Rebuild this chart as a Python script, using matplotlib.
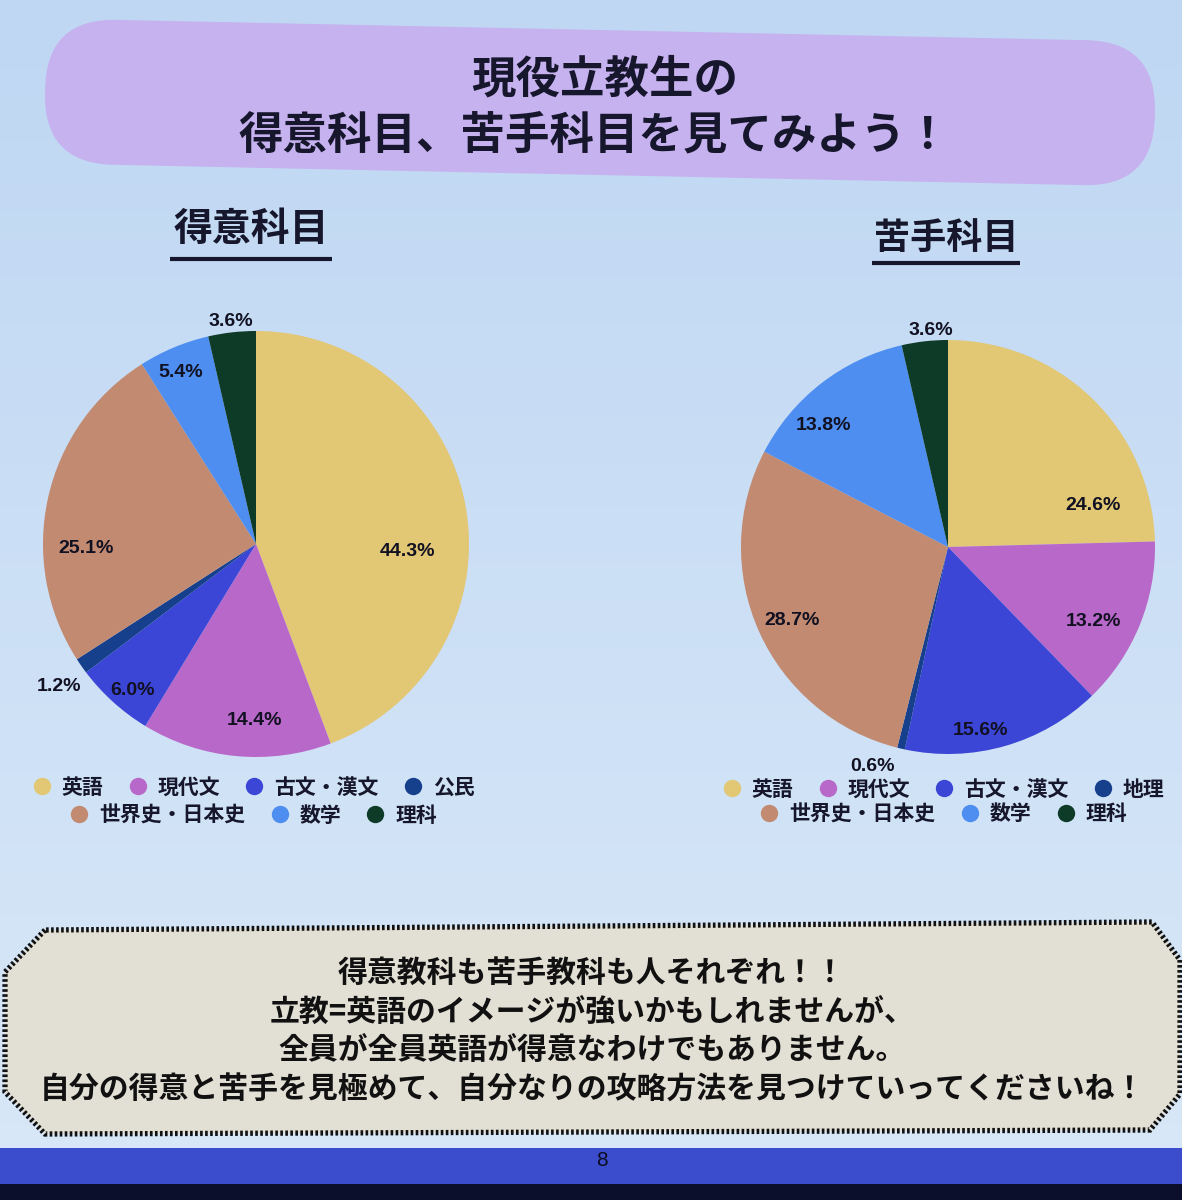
import matplotlib
matplotlib.use('Agg')
import matplotlib.pyplot as plt
import numpy as np
from matplotlib.patches import FancyBboxPatch, Polygon, Rectangle
from matplotlib.lines import Line2D
import matplotlib.transforms as mtransforms
import matplotlib.colors as mcolors

plt.rcParams['font.family'] = ['Noto Sans CJK JP', 'DejaVu Sans']

# ---------------- data ----------------
title_lines = ["現役立教生の", "得意科目、苦手科目を見てみよう！"]
left_title = "得意科目"
right_title = "苦手科目"
left_labels = ["英語", "現代文", "古文・漢文", "公民", "世界史・日本史", "数学", "理科"]
left_values = [44.3, 14.4, 6.0, 1.2, 25.1, 5.4, 3.6]
right_labels = ["英語", "現代文", "古文・漢文", "地理", "世界史・日本史", "数学", "理科"]
right_values = [24.6, 13.2, 15.6, 0.6, 28.7, 13.8, 3.6]
message_lines = [
    "得意教科も苦手教科も人それぞれ！！",
    "立教=英語のイメージが強いかもしれませんが、",
    "全員が全員英語が得意なわけでもありません。",
    "自分の得意と苦手を見極めて、自分なりの攻略方法を見つけていってくださいね！",
]
page_number = "8"

# ---------------- style ----------------
slice_colors = ["#e2c774", "#b868c8", "#3b45d6", "#163f8c", "#c28a70", "#4d8ef0", "#0e3a28"]
left_label_dist = [0.71, 0.83, 0.90, 1.14, 0.80, 0.88, 1.05]
left_label_shift = [-13, 5, 2, 1, 14, 1, 0]
right_label_dist = [0.73, 0.79, 0.90, 1.12, 0.83, 0.84, 1.05]
right_label_shift = [-30, -5, -6, -6, 1, 8, -2]
ink = "#16162c"

W, H = 1182, 1200
fig = plt.figure(figsize=(W / 100, H / 100), dpi=100)
bg = fig.add_axes([0, 0, 1, 1])
bg.set_xlim(0, W)
bg.set_ylim(H, 0)
bg.axis('off')

# background gradient
c_top = np.array(mcolors.to_rgb("#bfd7f3"))
c_bot = np.array(mcolors.to_rgb("#d9e8f8"))
t = np.linspace(0, 1, 256)[:, None, None]
grad = c_top * (1 - t) + c_bot * t
bg.imshow(grad, extent=(0, W, H, 0), aspect='auto', zorder=0)

# title pill
pill = FancyBboxPatch((45, 30), 1110, 145, boxstyle="round,pad=0,rounding_size=70",
                      facecolor="#c6b2ef", edgecolor="none", zorder=1)
pill.set_transform(mtransforms.Affine2D().rotate_deg_around(600, 102, 1.2) + bg.transData)
bg.add_patch(pill)
bg.text(605, 80, title_lines[0], ha='center', va='center', fontsize=32, color=ink,
        weight='bold', zorder=2)
bg.text(594, 135, title_lines[1], ha='center', va='center', fontsize=32, color=ink,
        weight='bold', zorder=2)

# section headers
bg.text(251, 230, left_title, ha='center', va='center', fontsize=28, weight='bold', color=ink)
bg.plot([170, 332], [259, 259], color=ink, lw=3, solid_capstyle='butt')
bg.text(946, 238, right_title, ha='center', va='center', fontsize=26, weight='bold', color=ink)
bg.plot([872, 1020], [263, 263], color=ink, lw=3, solid_capstyle='butt')


def draw_pie(cx, cy, r, values, dists, shifts):
    ax = fig.add_axes([(cx - r) / W, 1 - (cy + r) / H, 2 * r / W, 2 * r / H])
    wedges, _ = ax.pie(values, colors=slice_colors, startangle=90, counterclock=False,
                       wedgeprops=dict(linewidth=0))
    ax.set_xlim(-1, 1)
    ax.set_ylim(-1, 1)
    ax.set_aspect('equal')
    ax.axis('off')
    for w, v, d, s in zip(wedges, values, dists, shifts):
        ang = np.deg2rad((w.theta1 + w.theta2) / 2 + s)
        ax.text(d * np.cos(ang), d * np.sin(ang), f"{v:.1f}%", ha='center', va='center',
                fontsize=14, weight='bold', family='Liberation Sans', color='#111122',
                clip_on=False)
    return ax


draw_pie(256, 544, 213, left_values, left_label_dist, left_label_shift)
draw_pie(948, 547, 207, right_values, right_label_dist, right_label_shift)


def draw_legend(cx, y1, y2, labels):
    handles = [Line2D([], [], marker='o', ls='', markersize=12.5, color=c,
                      markeredgewidth=0) for c in slice_colors]
    for idx, yy in ((slice(0, 4), y1), (slice(4, 7), y2)):
        hs = handles[idx]
        ls = labels[idx]
        leg = fig.legend(hs, ls, loc='center', bbox_to_anchor=(cx / W, 1 - yy / H),
                         ncol=len(hs), frameon=False,
                         prop=dict(family=['Noto Sans CJK JP'], size=15, weight='bold'),
                         handlelength=0.8, handletextpad=0.55, columnspacing=1.25,
                         borderpad=0, borderaxespad=0)
        for tx in leg.get_texts():
            tx.set_color(ink)


draw_legend(254, 787, 815, left_labels)
draw_legend(944, 789, 814, right_labels)

# message box
pts = [(45, 930), (5, 972), (5, 1092), (45, 1134), (1150, 1130), (1180, 1094),
       (1180, 960), (1152, 922)]
box = Polygon(pts, closed=True, facecolor="#e2dfd4", edgecolor="#111111", lw=3.8,
              linestyle=(0, (0.5, 0.45)), zorder=3)
bg.add_patch(box)
for yy, line in zip([973, 1013, 1050, 1090], message_lines):
    bg.text(592, yy, line, ha='center', va='center', fontsize=21.5, color='#111111',
            weight='bold', zorder=4)

# bottom band
bg.add_patch(Rectangle((0, 1148), W, 36, facecolor="#3b4dcc", edgecolor='none', zorder=2))
bg.add_patch(Rectangle((0, 1184), W, 16, facecolor="#0c0f2c", edgecolor='none', zorder=2))
bg.text(602, 1161, page_number, ha='center', va='center', fontsize=15, color='#0b0d22',
        family='Liberation Sans', zorder=4)

fig.savefig("out.png", dpi=100)
